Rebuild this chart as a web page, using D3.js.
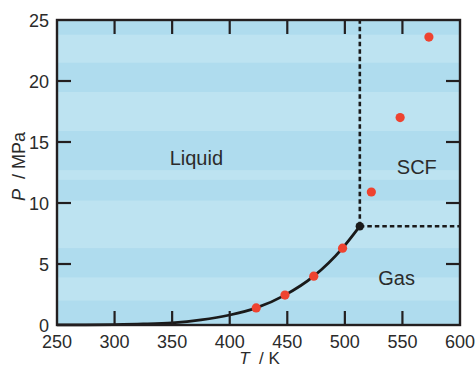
<!DOCTYPE html>
<html>
<head>
<meta charset="utf-8">
<script src="https://cdn.jsdelivr.net/npm/d3@7"></script>
<style>
  body { margin: 0; background: #fff; }
  svg text { font-family: "Liberation Sans", Arial, sans-serif; fill: #2b2b2b; }
</style>
</head>
<body>
<div id="chart"></div>
<script>
// vapour pressure curve
const curveT = [250, 275, 300, 325, 350, 375, 400, 423, 448, 473, 498, 513];
const curveP = [0.005, 0.01, 0.03, 0.08, 0.18, 0.42, 0.82, 1.4, 2.45, 4.0, 6.3, 8.1];

// measured points
const pointT = [423, 448, 473, 498, 523, 548, 573];
const pointP = [1.4, 2.45, 4.0, 6.3, 10.9, 17.0, 23.6];

// critical point
const critT = 513;
const critP = 8.1;

const xTicks = [250, 300, 350, 400, 450, 500, 550, 600];
const yTicks = [0, 5, 10, 15, 20, 25];

// darker background bands, MPa
const bandLo = [0, 3.9, 10.2, 12.7, 19.1, 23.8];
const bandHi = [2.0, 6.3, 11.9, 15.9, 21.5, 25];

const regionNames = ["Liquid", "SCF", "Gas"];
const regionT = [371, 562.5, 545];
const regionP = [13.1, 12.4, 3.3];

const width = 475;
const height = 367;
const margin = { top: 20, right: 15, bottom: 42, left: 57 };

const x = d3.scaleLinear().domain([250, 600]).range([margin.left, width - margin.right]);
const y = d3.scaleLinear().domain([0, 25]).range([height - margin.bottom, margin.top]);

const svg = d3.select("#chart")
    .append("svg")
    .attr("width", width)
    .attr("height", height);

// plot background
svg.append("rect")
    .attr("x", x(250))
    .attr("y", y(25))
    .attr("width", x(600) - x(250))
    .attr("height", y(0) - y(25))
    .style("fill", "#bde3f1");

svg.append("g")
    .selectAll("rect")
    .data(bandLo)
    .enter()
    .append("rect")
    .attr("x", x(250))
    .attr("width", x(600) - x(250))
    .attr("y", (d, i) => y(bandHi[i]))
    .attr("height", (d, i) => y(d) - y(bandHi[i]))
    .style("fill", "#afdcee");

// dashed boundaries of the supercritical region
svg.append("line")
    .attr("x1", x(critT)).attr("x2", x(critT))
    .attr("y1", y(critP)).attr("y2", y(25))
    .style("stroke", "#1a1a1a")
    .style("stroke-width", 2.6)
    .style("stroke-dasharray", "4.5,3");

svg.append("line")
    .attr("x1", x(critT)).attr("x2", x(600))
    .attr("y1", y(critP)).attr("y2", y(critP))
    .style("stroke", "#1a1a1a")
    .style("stroke-width", 2.6)
    .style("stroke-dasharray", "4.5,3");

// vapour pressure curve
const line = d3.line()
    .x((d, i) => x(curveT[i]))
    .y((d) => y(d))
    .curve(d3.curveMonotoneX);

svg.append("path")
    .attr("d", line(curveP))
    .style("fill", "none")
    .style("stroke", "#1a1a1a")
    .style("stroke-width", 2.8);

// frame
svg.append("rect")
    .attr("x", x(250))
    .attr("y", y(25))
    .attr("width", x(600) - x(250))
    .attr("height", y(0) - y(25))
    .style("fill", "none")
    .style("stroke", "#231f20")
    .style("stroke-width", 2.4);

// inward ticks on all four sides
const tickLen = 14;
const xIn = xTicks.slice(1, -1);
const yIn = yTicks.slice(1, -1);
const ticks = svg.append("g")
    .style("stroke", "#231f20")
    .style("stroke-width", 2.2);

xIn.forEach((t) => {
    ticks.append("line").attr("x1", x(t)).attr("x2", x(t)).attr("y1", y(0)).attr("y2", y(0) - tickLen);
    ticks.append("line").attr("x1", x(t)).attr("x2", x(t)).attr("y1", y(25)).attr("y2", y(25) + tickLen);
});
yIn.forEach((t) => {
    ticks.append("line").attr("x1", x(250)).attr("x2", x(250) + tickLen).attr("y1", y(t)).attr("y2", y(t));
    ticks.append("line").attr("x1", x(600)).attr("x2", x(600) - tickLen).attr("y1", y(t)).attr("y2", y(t));
});

// tick labels
svg.append("g")
    .selectAll("text")
    .data(xTicks)
    .enter()
    .append("text")
    .attr("x", (d) => x(d))
    .attr("y", y(0) + 23)
    .attr("text-anchor", "middle")
    .style("font-size", "18px")
    .text((d) => d);

svg.append("g")
    .selectAll("text")
    .data(yTicks)
    .enter()
    .append("text")
    .attr("x", x(250) - 8)
    .attr("y", (d) => y(d) + 6.5)
    .attr("text-anchor", "end")
    .style("font-size", "18px")
    .text((d) => d);

// axis titles
const xt = svg.append("text")
    .attr("x", (x(250) + x(600)) / 2 + 1)
    .attr("y", height - 3)
    .attr("text-anchor", "middle")
    .style("font-size", "17px");
xt.append("tspan").style("font-style", "italic").text("T");
xt.append("tspan").text("\u00a0 / K");

const yt = svg.append("text")
    .attr("transform", `translate(25,${(y(0) + y(25)) / 2 - 6}) rotate(-90)`)
    .attr("text-anchor", "middle")
    .style("font-size", "18px");
yt.append("tspan").style("font-style", "italic").text("P");
yt.append("tspan").text("\u00a0 / MPa");

// region labels
svg.append("g")
    .selectAll("text")
    .data(regionNames)
    .enter()
    .append("text")
    .attr("x", (d, i) => x(regionT[i]))
    .attr("y", (d, i) => y(regionP[i]))
    .attr("text-anchor", "middle")
    .style("font-size", "20px")
    .text((d) => d);

// measured points
svg.append("g")
    .selectAll("circle")
    .data(pointP)
    .enter()
    .append("circle")
    .attr("cx", (d, i) => x(pointT[i]))
    .attr("cy", (d) => y(d))
    .attr("r", 4.6)
    .style("fill", "#ee4330");

svg.append("circle")
    .attr("cx", x(critT))
    .attr("cy", y(critP))
    .attr("r", 4.2)
    .style("fill", "#1a1a1a");
</script>
</body>
</html>
